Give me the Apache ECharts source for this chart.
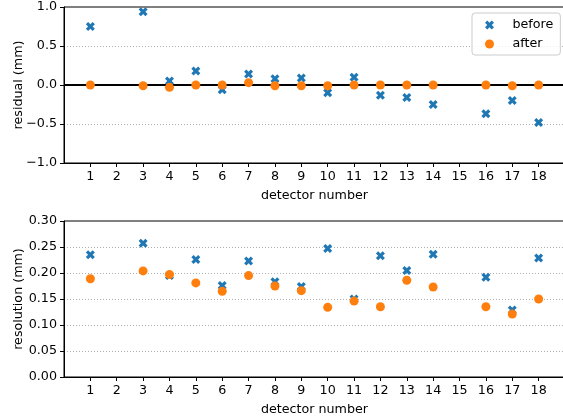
<!DOCTYPE html>
<html>
<head>
<meta charset="utf-8">
<script src="https://cdn.jsdelivr.net/npm/echarts@6/dist/echarts.min.js"></script>
<style>
html,body{margin:0;padding:0;background:#fff;}
#chart{width:563px;height:419px;}
</style>
</head>
<body>
<div id="chart"></div>
<script>
// ---- data ----
const detectors = [1, 3, 4, 5, 6, 7, 8, 9, 10, 11, 12, 13, 14, 16, 17, 18];
const xTicks = [1, 2, 3, 4, 5, 6, 7, 8, 9, 10, 11, 12, 13, 14, 15, 16, 17, 18];
const residualBefore = [0.75, 0.94, 0.05, 0.18, -0.06, 0.14, 0.08, 0.09, -0.10, 0.10, -0.13, -0.16, -0.25, -0.37, -0.20, -0.48];
const residualAfter  = [0.00, -0.01, -0.03, 0.00, 0.00, 0.03, -0.01, -0.01, -0.01, 0.00, 0.00, 0.00, 0.00, 0.00, -0.01, 0.00];
const resolutionBefore = [0.235, 0.257, 0.195, 0.226, 0.176, 0.223, 0.183, 0.174, 0.247, 0.150, 0.233, 0.205, 0.236, 0.192, 0.129, 0.229];
const resolutionAfter  = [0.189, 0.204, 0.197, 0.181, 0.165, 0.195, 0.175, 0.166, 0.134, 0.146, 0.135, 0.186, 0.173, 0.135, 0.121, 0.150];
const residualTicks = [-1.0, -0.5, 0.0, 0.5, 1.0];
const resolutionTicks = [0.00, 0.05, 0.10, 0.15, 0.20, 0.25, 0.30];

const BLUE = '#1f77b4', ORANGE = '#ff7f0e';
const FONT = 'DejaVu Sans';
const FS = 12.7;
const xPath = 'path://M0.25,0 L0.5,0.25 L0.25,0.5 L0,0.25 L-0.25,0.5 L-0.5,0.25 L-0.25,0 L-0.5,-0.25 L-0.25,-0.5 L0,-0.25 L0.25,-0.5 L0.5,-0.25 Z';

function pairs(xs, ys){ return xs.map((x,i)=>[x, ys[i]]); }
function fmt(dec){ return v => Number(v).toFixed(dec).replace('-', '\u2212'); }

function xAxisCfg(gi){
  return {
    type:'value', gridIndex:gi, min:0, max:19, interval:1,
    name:'detector number', nameLocation:'middle', nameGap:26, nameMoveOverlap:false,
    nameTextStyle:{color:'#000', fontFamily:FONT, fontSize:FS},
    axisLine:{show:true, onZero:false, lineStyle:{color:'#000', width:1}},
    axisTick:{show:true, length:4, customValues:xTicks, lineStyle:{color:'#000'}},
    axisLabel:{show:true, customValues:xTicks, margin:7, color:'#000', fontFamily:FONT, fontSize:FS},
    splitLine:{show:false}
  };
}
function yAxisCfg(gi, name, ticks, dec){
  return {
    type:'value', gridIndex:gi, min:ticks[0], max:ticks[ticks.length-1], interval:ticks[1]-ticks[0],
    name:name, nameLocation:'middle', nameGap:39, nameMoveOverlap:false,
    nameTextStyle:{color:'#000', fontFamily:FONT, fontSize:FS},
    axisLine:{show:true, onZero:false, lineStyle:{color:'#000', width:1}},
    axisTick:{show:true, length:4, lineStyle:{color:'#000'}},
    axisLabel:{show:true, margin:7, color:'#000', fontFamily:FONT, fontSize:FS, formatter:fmt(dec)},
    splitLine:{show:true, showMinLine:false, showMaxLine:false, lineStyle:{color:'#b0b0b0', type:[1,2], width:1}}
  };
}

const chart = echarts.init(document.getElementById('chart'), null, {renderer:'canvas'});
chart.setOption({
  animation:false,
  backgroundColor:'#fff',
  grid:[
    {left:64, right:-2, top:7, height:156, show:true, borderColor:'#000', borderWidth:1, backgroundColor:'transparent', containLabel:false, outerBoundsMode:'none'},
    {left:64, right:-2, top:221, height:156, show:true, borderColor:'#000', borderWidth:1, backgroundColor:'transparent', containLabel:false, outerBoundsMode:'none'}
  ],
  xAxis:[xAxisCfg(0), xAxisCfg(1)],
  yAxis:[yAxisCfg(0,'residual (mm)', residualTicks, 1), yAxisCfg(1,'resolution (mm)', resolutionTicks, 2)],
  legend:{
    show:true, orient:'vertical', left:472, top:13,
    padding:[5,7,4,13], itemGap:5, itemWidth:10, itemHeight:9,
    backgroundColor:'rgba(255,255,255,0.8)', borderColor:'#cccccc', borderWidth:1, borderRadius:3,
    textStyle:{color:'#000', fontFamily:FONT, fontSize:FS, lineHeight:14, padding:[0,0,0,13]},
    data:[{name:'before', icon:xPath}, {name:'after', icon:'circle'}]
  },
  series:[
    {type:'line', name:'zero', xAxisIndex:0, yAxisIndex:0, data:[[0,0],[19,0]], symbol:'none', silent:true, z:1,
     lineStyle:{color:'#000', width:1.8}},
    {type:'scatter', name:'before', xAxisIndex:0, yAxisIndex:0, data:pairs(detectors, residualBefore),
     symbol:xPath, symbolSize:9, itemStyle:{color:BLUE, opacity:1}, z:2},
    {type:'scatter', name:'after', xAxisIndex:0, yAxisIndex:0, data:pairs(detectors, residualAfter),
     symbol:'circle', symbolSize:9, itemStyle:{color:ORANGE, opacity:1}, z:3},
    {type:'scatter', name:'before', xAxisIndex:1, yAxisIndex:1, data:pairs(detectors, resolutionBefore),
     symbol:xPath, symbolSize:9, itemStyle:{color:BLUE, opacity:1}, z:2},
    {type:'scatter', name:'after', xAxisIndex:1, yAxisIndex:1, data:pairs(detectors, resolutionAfter),
     symbol:'circle', symbolSize:9, itemStyle:{color:ORANGE, opacity:1}, z:3}
  ]
});
</script>
</body>
</html>
